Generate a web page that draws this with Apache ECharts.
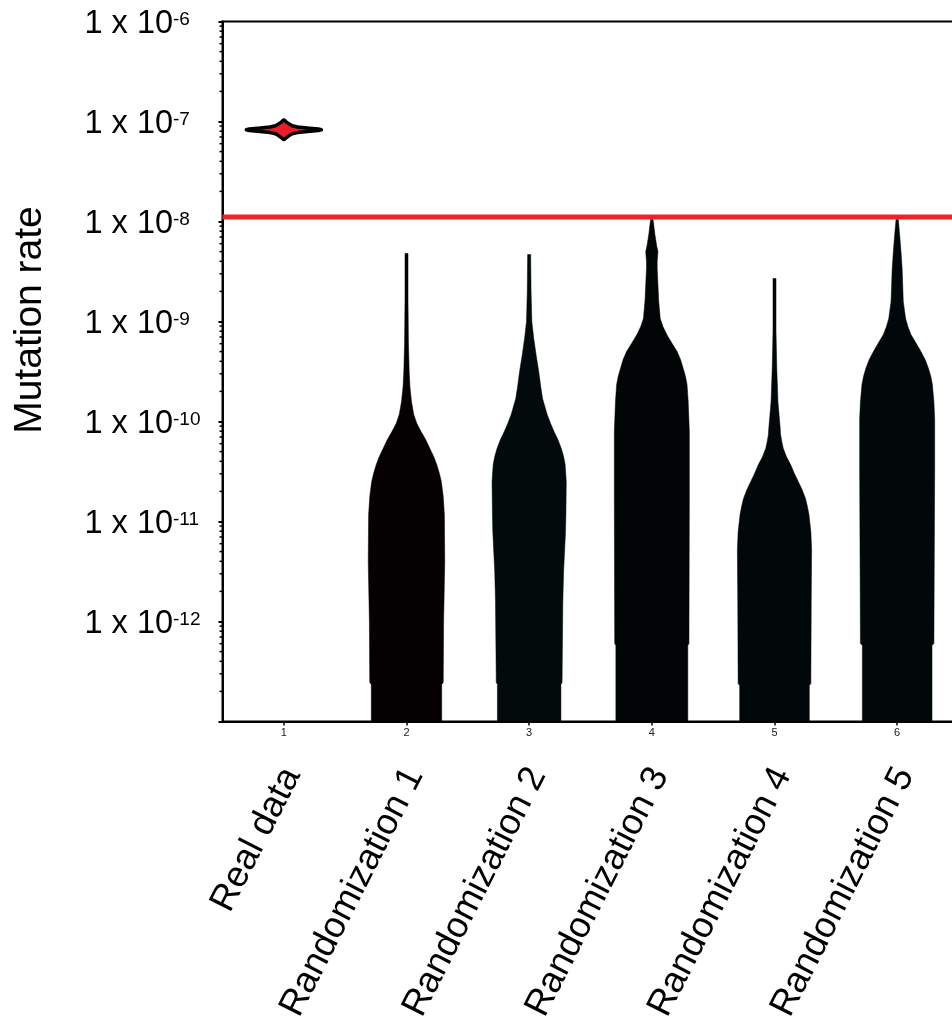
<!DOCTYPE html>
<html>
<head>
<meta charset="utf-8">
<script src="https://cdn.jsdelivr.net/npm/echarts@6/dist/echarts.min.js"></script>
<style>
html,body{margin:0;padding:0;background:#fff;}
#chart{width:952px;height:1025px;}
</style>
</head>
<body>
<div id="chart"></div>
<script>
// ---- data ----
const categories = ['Real data', 'Randomization 1', 'Randomization 2', 'Randomization 3', 'Randomization 4', 'Randomization 5'];
const tickNumbers = ['1', '2', '3', '4', '5', '6'];
const yTickExponents = [-6, -7, -8, -9, -10, -11, -12];
const thresholdRate = 1.11e-8;
const yTitle = 'Mutation rate';

// violin profiles: log10(mutation rate) levels and relative density (0..1)
const realLevels   = [-6.985, -7.003, -7.023, -7.043, -7.055, -7.066, -7.075, -7.083, -7.091, -7.1, -7.111, -7.123, -7.143, -7.163, -7.181];
const realDensity  = [0.01, 0.06, 0.13, 0.22, 0.36, 0.62, 0.9, 0.98, 0.9, 0.62, 0.36, 0.22, 0.13, 0.06, 0.01];

const rand1Levels  = [-8.32, -8.8, -9.2, -9.5, -9.65, -9.8, -9.93, -10.02, -10.1, -10.18, -10.27, -10.35, -10.43, -10.52, -10.6, -10.75, -10.93, -11.4, -12.0, -12.61, -12.63, -13.0];
const rand1Density = [0.04, 0.04, 0.05, 0.07, 0.09, 0.13, 0.19, 0.27, 0.38, 0.5, 0.61, 0.71, 0.79, 0.86, 0.91, 0.96, 0.99, 1.0, 0.97, 0.96, 0.92, 0.92];

const rand2Levels  = [-8.33, -8.7, -9.0, -9.17, -9.33, -9.5, -9.67, -9.77, -9.93, -10.02, -10.1, -10.18, -10.27, -10.35, -10.43, -10.6, -10.93, -11.1, -11.5, -11.8, -12.61, -12.63, -13.0];
const rand2Density = [0.04, 0.05, 0.07, 0.12, 0.18, 0.25, 0.31, 0.35, 0.47, 0.56, 0.65, 0.75, 0.84, 0.9, 0.94, 0.97, 0.96, 0.95, 0.9, 0.88, 0.86, 0.83, 0.83];

const rand3Levels  = [-7.98, -8.0, -8.13, -8.25, -8.3, -8.4, -8.47, -8.8, -8.97, -9.05, -9.13, -9.22, -9.3, -9.38, -9.47, -9.55, -9.63, -9.8, -10.1, -10.8, -12.22, -12.24, -13.0];
const rand3Density = [0.03, 0.04, 0.08, 0.13, 0.16, 0.14, 0.14, 0.18, 0.22, 0.29, 0.39, 0.53, 0.66, 0.75, 0.82, 0.88, 0.92, 0.95, 0.98, 0.98, 0.97, 0.94, 0.94];

const rand4Levels  = [-8.57, -9.1, -9.47, -9.8, -10.07, -10.13, -10.2, -10.27, -10.35, -10.43, -10.52, -10.6, -10.68, -10.77, -10.85, -10.93, -11.1, -11.28, -11.8, -12.62, -12.64, -13.0];
const rand4Density = [0.04, 0.04, 0.06, 0.09, 0.15, 0.16, 0.19, 0.23, 0.31, 0.42, 0.52, 0.62, 0.72, 0.81, 0.86, 0.9, 0.95, 0.97, 0.96, 0.95, 0.91, 0.91];

const rand5Levels  = [-7.98, -8.13, -8.3, -8.47, -8.8, -8.97, -9.05, -9.13, -9.22, -9.3, -9.38, -9.47, -9.55, -9.63, -9.8, -9.97, -10.5, -12.22, -12.24, -13.0];
const rand5Density = [0.03, 0.065, 0.1, 0.13, 0.16, 0.22, 0.28, 0.36, 0.5, 0.62, 0.73, 0.82, 0.88, 0.92, 0.96, 0.98, 0.98, 0.96, 0.91, 0.91];

const minorMultipliers = [2, 3, 4, 5, 6, 7, 8, 9];
const minorDecades = [-13, -12, -11, -10, -9, -8, -7];

// ---- build ----
const violins = [
  { levels: realLevels,  density: realDensity,  fill: '#ee1c25', stroke: '#000', lw: 3.5 },
  { levels: rand1Levels, density: rand1Density, fill: '#050102', stroke: '#050102', lw: 0.5 },
  { levels: rand2Levels, density: rand2Density, fill: '#020a0c', stroke: '#020a0c', lw: 0.5 },
  { levels: rand3Levels, density: rand3Density, fill: '#010506', stroke: '#010506', lw: 0.5 },
  { levels: rand4Levels, density: rand4Density, fill: '#02080a', stroke: '#02080a', lw: 0.5 },
  { levels: rand5Levels, density: rand5Density, fill: '#02080a', stroke: '#02080a', lw: 0.5 }
];

const minorTicks = [];
minorDecades.forEach(function (d) {
  minorMultipliers.forEach(function (m) { minorTicks.push([0, m * Math.pow(10, d)]); });
});

const FONT = "'Liberation Sans', Arial, Helvetica, sans-serif";
const AXIS_MIN = 1e-13;

function renderViolin(params, api) {
  const i = api.value(0);
  const v = violins[i];
  const a = api.coord([0, 1e-9]);
  const b = api.coord([1, 1e-9]);
  const band = b[0] - a[0];
  const maxHalf = band * 0.312;
  const left = [], right = [];
  for (let k = 0; k < v.levels.length; k++) {
    const p = api.coord([i, Math.pow(10, v.levels[k])]);
    left.push([p[0] - v.density[k] * maxHalf, p[1]]);
    right.push([p[0] + v.density[k] * maxHalf, p[1]]);
  }
  const pts = left.concat(right.reverse());
  return {
    type: 'polygon',
    shape: { points: pts },
    style: { fill: v.fill, stroke: v.stroke, lineWidth: v.lw, lineJoin: 'round' }
  };
}

function renderMinorTick(params, api) {
  const p = api.coord([0, api.value(1)]);
  const x0 = params.coordSys.x;
  return {
    type: 'line',
    shape: { x1: x0 - 3, y1: p[1], x2: x0, y2: p[1] },
    style: { stroke: '#000', lineWidth: 1.5 }
  };
}

function renderThreshold(params, api) {
  const p = api.coord([0, api.value(1)]);
  const cs = params.coordSys;
  return {
    type: 'line',
    shape: { x1: cs.x, y1: p[1], x2: cs.x + cs.width, y2: p[1] },
    style: { stroke: '#ee2228', lineWidth: 5 }
  };
}

function renderCategoryName(params, api) {
  const i = api.value(0);
  const p = api.coord([i, AXIS_MIN]);
  return {
    type: 'text',
    x: p[0] + 8,
    y: p[1] + 48.5,
    rotation: 63 * Math.PI / 180,
    style: {
      text: categories[i],
      font: "36.5px 'Liberation Sans', Arial, sans-serif",
      fill: '#000',
      textAlign: 'right',
      textVerticalAlign: 'middle'
    }
  };
}

const chart = echarts.init(document.getElementById('chart'), null, { renderer: 'canvas' });
chart.setOption({
  backgroundColor: '#fff',
  animation: false,
  textStyle: { fontFamily: FONT },
  grid: {
    left: 222.5, top: 21.5, width: 736, height: 700,
    containLabel: false,
    outerBoundsMode: 'none',
    show: true, borderColor: '#000', borderWidth: 2, backgroundColor: 'transparent'
  },
  graphic: [{
    type: 'text',
    x: 30, y: 320,
    rotation: Math.PI / 2,
    style: {
      text: yTitle,
      font: "39px 'Liberation Sans', Arial, sans-serif",
      fill: '#000',
      textAlign: 'center',
      textVerticalAlign: 'middle'
    }
  }],
  xAxis: {
    type: 'category',
    data: tickNumbers,
    position: 'bottom',
    axisLine: { show: true, lineStyle: { color: '#000', width: 2 } },
    axisTick: { show: true, alignWithLabel: true, length: 4, lineStyle: { color: '#000', width: 1.5 } },
    axisLabel: { show: true, interval: 0, fontSize: 11, color: '#222', margin: 6, fontFamily: FONT },
    splitLine: { show: false }
  },
  yAxis: {
    type: 'log',
    logBase: 10,
    min: AXIS_MIN,
    max: 1e-6,
    axisLine: { show: true, lineStyle: { color: '#000', width: 2 } },
    axisTick: { show: true, length: 4, lineStyle: { color: '#000', width: 2 } },
    splitLine: { show: false },
    minorTick: { show: false },
    axisLabel: {
      margin: 138,
      align: 'left',
      padding: [8, 0, 0, 0],
      color: '#000',
      fontFamily: FONT,
      formatter: function (val) {
        const e = Math.round(Math.log10(val));
        if (yTickExponents.indexOf(e) < 0) return '';
        return '{b|1 x 10}{s|' + e + '}';
      },
      rich: {
        b: { fontSize: 32.5, lineHeight: 31, color: '#000', fontFamily: FONT, verticalAlign: 'bottom' },
        s: { fontSize: 19, lineHeight: 16, color: '#000', fontFamily: FONT, verticalAlign: 'top' }
      }
    }
  },
  series: [
    {
      type: 'custom',
      name: 'violins',
      renderItem: renderViolin,
      clip: true,
      data: categories.map(function (c, i) { return [i, 1e-9]; }),
      encode: { x: 0, y: 1 },
      z: 2
    },
    {
      type: 'custom',
      name: 'threshold',
      renderItem: renderThreshold,
      clip: false,
      data: [[0, thresholdRate]],
      encode: { x: 0, y: 1 },
      z: 3
    },
    {
      type: 'custom',
      name: 'minorTicks',
      renderItem: renderMinorTick,
      clip: false,
      data: minorTicks,
      encode: { x: 0, y: 1 },
      z: 5
    },
    {
      type: 'custom',
      name: 'categoryNames',
      renderItem: renderCategoryName,
      clip: false,
      silent: true,
      data: categories.map(function (c, i) { return [i, AXIS_MIN]; }),
      encode: { x: 0, y: 1 },
      z: 5
    }
  ]
});
</script>
</body>
</html>
